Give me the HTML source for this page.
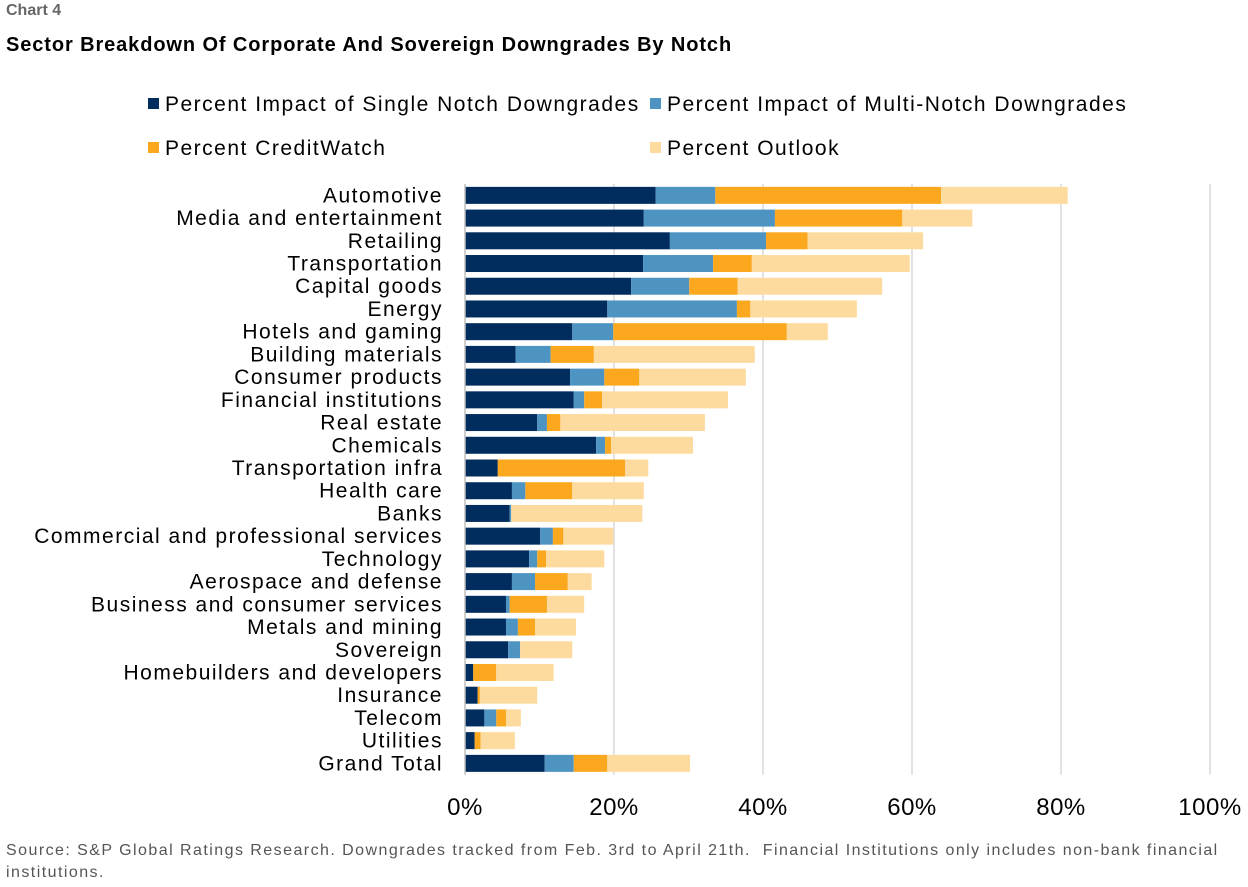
<!DOCTYPE html>
<html><head><meta charset="utf-8"><style>
body{margin:0;background:#fff;font-family:"Liberation Sans",sans-serif;}
#wrap{position:relative;width:1248px;height:887px;overflow:hidden;}
.t{position:absolute;white-space:nowrap;}
</style></head><body>
<div id="wrap">
<div class="t" style="left:6px;top:2px;font-size:16px;font-weight:bold;color:#666">Chart 4</div>
<div class="t" style="left:6px;top:34px;font-size:20px;font-weight:bold;color:#000;letter-spacing:0.9px">Sector Breakdown Of Corporate And Sovereign Downgrades By Notch</div>
<svg id="svg" width="1248" height="887" style="position:absolute;left:0;top:0"></svg>
<div class="t" style="left:6px;top:840px;font-size:16px;color:#555;line-height:22px;letter-spacing:1.45px">Source: S&amp;P Global Ratings Research. Downgrades tracked from Feb. 3rd to April 21th.&nbsp; Financial Institutions only includes non-bank financial<br>institutions.</div>
</div>
<script>
const categories=["Automotive","Media and entertainment","Retailing","Transportation","Capital goods","Energy","Hotels and gaming","Building materials","Consumer products","Financial institutions","Real estate","Chemicals","Transportation infra","Health care","Banks","Commercial and professional services","Technology","Aerospace and defense","Business and consumer services","Metals and mining","Sovereign","Homebuilders and developers","Insurance","Telecom","Utilities","Grand Total"];
const singleNotch=[25.6,24.0,27.5,23.9,22.3,19.1,14.4,6.8,14.1,14.6,9.7,17.6,4.4,6.3,6.0,10.1,8.6,6.3,5.5,5.5,5.8,1.1,1.7,2.6,1.3,10.7];
const multiNotch=[8.0,17.6,12.9,9.4,7.8,17.4,5.5,4.7,4.6,1.4,1.3,1.2,0,1.8,0.2,1.7,1.1,3.1,0.5,1.6,1.6,0,0,1.6,0,3.9];
const creditWatch=[30.3,17.1,5.6,5.2,6.5,1.8,23.3,5.8,4.7,2.4,1.8,0.8,17.1,6.3,0,1.4,1.2,4.4,5.0,2.3,0,3.1,0.3,1.3,0.8,4.5];
const outlook=[17.0,9.4,15.5,21.2,19.4,14.3,5.5,21.6,14.3,16.9,19.4,11.0,3.1,9.6,17.6,6.7,7.8,3.2,5.0,5.5,7.0,7.7,7.7,2.0,4.6,11.1];
const tickLabels=["0%","20%","40%","60%","80%","100%"];
const tickValues=[0,20,40,60,80,100];
const seriesNames=["Percent Impact of Single Notch Downgrades","Percent Impact of Multi-Notch Downgrades","Percent CreditWatch","Percent Outlook"];
const colors=["#002d5e","#4d94c3","#fba81f","#fddb9e"];
const NS="http://www.w3.org/2000/svg",svg=document.getElementById('svg');
const x0=465,x1=1210,top0=184,step=22.72,bh=17;
const xs=v=>x0+(x1-x0)*v/100;
const ys=i=>top0+step*i+step/2;
function el(t,a){const e=document.createElementNS(NS,t);for(const k in a)e.setAttribute(k,a[k]);svg.appendChild(e);return e;}
tickValues.forEach((v,i)=>{
 if(v>0){const g=el('line',{x1:xs(v),x2:xs(v),y1:top0,y2:top0+step*categories.length,stroke:'#d9d9d9','stroke-width':1.5});
 
 }
 const t=el('text',{x:xs(v),y:815,'text-anchor':'middle','font-size':24,fill:'#000','letter-spacing':0.5});t.textContent=tickLabels[i];
 
 
});
const series=[singleNotch,multiNotch,creditWatch,outlook];
categories.forEach((c,i)=>{
 const t=el('text',{x:443,y:ys(i)+7,'text-anchor':'end','font-size':21,fill:'#000','letter-spacing':1.5});t.textContent=c;
 
 
 let acc=0;
 series.forEach((s,j)=>{
  const r=el('rect',{x:xs(acc),y:ys(i)-bh/2,width:Math.max(0,xs(acc+s[i])-xs(acc)),height:bh,fill:colors[j]});
  
  
  acc+=s[i];
 });
});
const ax=el('line',{x1:x0,x2:x0,y1:top0,y2:top0+step*categories.length,stroke:'#bfbfbf','stroke-width':1.5});


const lx=[148,650,148,650],ly=[104,104,148,148];
seriesNames.forEach((n,j)=>{
 const r=el('rect',{x:lx[j],y:ly[j]-6,width:11,height:11,fill:colors[j]});
 
 
 const t=el('text',{x:lx[j]+17,y:ly[j]+7,'font-size':21,fill:'#000','letter-spacing':1.5});t.textContent=n;
 
 
});
</script>
</body></html>
